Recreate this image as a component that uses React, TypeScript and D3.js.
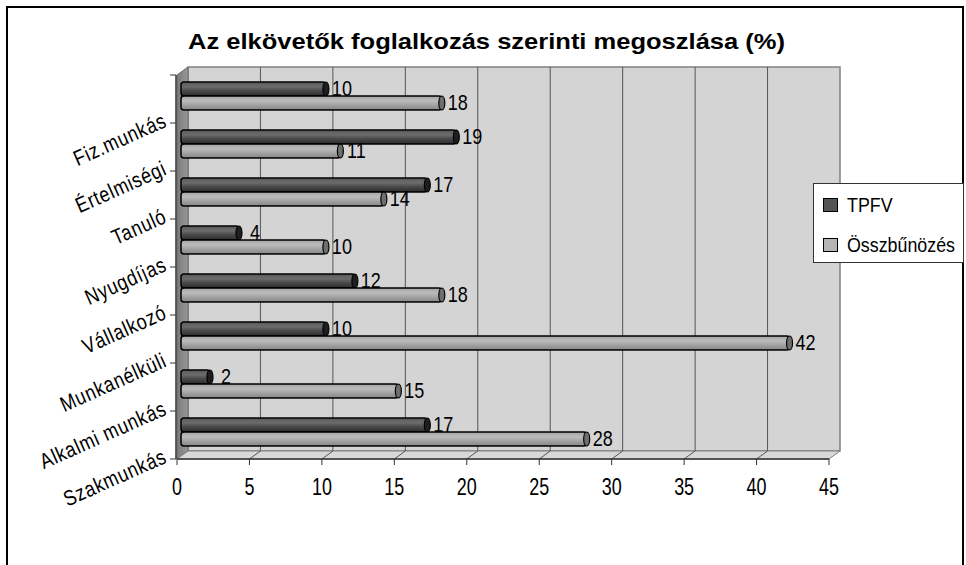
import * as d3 from 'd3';

const categories = [
  'Fiz.munkás',
  'Értelmiségi',
  'Tanuló',
  'Nyugdíjas',
  'Vállalkozó',
  'Munkanélküli',
  'Alkalmi munkás',
  'Szakmunkás',
];
const seriesNames = ['TPFV', 'Összbűnözés'];
const tpfvValues = [10, 19, 17, 4, 12, 10, 2, 17];
const osszValues = [18, 11, 14, 10, 18, 42, 15, 28];
const xTickValues = [0, 5, 10, 15, 20, 25, 30, 35, 40, 45];

const WIDTH = 966;
const HEIGHT = 565;
const FONT = 'Arial, "Liberation Sans", sans-serif';

// 3D depth offset of the back wall
const DX = 11;
const DY = -8;

const fills = ['url(#gDark)', 'url(#gLight)'];
const capFills = ['#1e1e1e', '#6e6e6e'];
const legendFills = ['#555555', '#b4b4b4'];

function SText({
  x,
  y,
  size = 21,
  sx = 0.85,
  anchor = 'start',
  children,
}: {
  x: number;
  y: number;
  size?: number;
  sx?: number;
  anchor?: 'start' | 'middle' | 'end';
  children: React.ReactNode;
}) {
  return (
    <text
      transform={`translate(${x},${y}) scale(${sx},1)`}
      textAnchor={anchor}
      dominantBaseline="central"
      fontSize={size}
      fontFamily={FONT}
      fill="#000"
    >
      {children}
    </text>
  );
}

export default function App() {
  const x = d3.scaleLinear().domain([0, 45]).range([177, 829]);
  const y = d3.scaleBand<string>().domain(categories).range([75, 459]);
  const inner = d3.scaleBand<string>().domain(seriesNames).range([7, 35]);

  const frontTop = 75;
  const frontBottom = 459;
  const x0 = x(0);
  const x1 = x(45);
  const barH = inner.bandwidth();

  const rows = categories.map((c, i) => ({ c, values: [tpfvValues[i], osszValues[i]] }));

  return (
    <svg
      width={WIDTH}
      height={HEIGHT}
      style={{ position: 'absolute', left: 0, top: 0, background: '#fff' }}
    >
      <defs>
        <linearGradient id="gDark" x1="0" y1="0" x2="0" y2="1">
          <stop offset="0" stopColor="#5a5a5a" />
          <stop offset="0.35" stopColor="#6c6c6c" />
          <stop offset="0.65" stopColor="#474747" />
          <stop offset="1" stopColor="#2c2c2c" />
        </linearGradient>
        <linearGradient id="gLight" x1="0" y1="0" x2="0" y2="1">
          <stop offset="0" stopColor="#a4a4a4" />
          <stop offset="0.35" stopColor="#bcbcbc" />
          <stop offset="0.65" stopColor="#a2a2a2" />
          <stop offset="1" stopColor="#858585" />
        </linearGradient>
        <linearGradient id="gSide" x1="0" y1="0" x2="1" y2="0">
          <stop offset="0" stopColor="#7a7a7a" />
          <stop offset="1" stopColor="#999999" />
        </linearGradient>
      </defs>

      {/* outer frame */}
      <rect x={7} y={7} width={956} height={620} fill="none" stroke="#000" strokeWidth={2} />

      {/* title */}
      <text
        x={486.5}
        y={49}
        textAnchor="middle"
        fontSize={22}
        fontWeight="bold"
        fontFamily={FONT}
        textLength={597}
        lengthAdjust="spacingAndGlyphs"
      >
        Az elkövetők foglalkozás szerinti megoszlása (%)
      </text>

      {/* back wall */}
      <rect
        x={x0 + DX}
        y={frontTop + DY}
        width={x1 - x0}
        height={frontBottom - frontTop}
        fill="#d4d4d4"
        stroke="#808080"
        strokeWidth={1.5}
      />
      {/* side wall */}
      <polygon
        points={`${x0},${frontTop} ${x0 + DX},${frontTop + DY} ${x0 + DX},${frontBottom + DY} ${x0},${frontBottom}`}
        fill="url(#gSide)"
        stroke="#6a6a6a"
        strokeWidth={1}
      />
      {/* floor */}
      <polygon
        points={`${x0},${frontBottom} ${x1},${frontBottom} ${x1 + DX},${frontBottom + DY} ${x0 + DX},${frontBottom + DY}`}
        fill="#d8d8d8"
        stroke="#808080"
        strokeWidth={1}
      />

      {/* grid lines on back wall and floor */}
      {xTickValues.slice(1, -1).map((v) => (
        <g key={`g${v}`} stroke="#555" strokeWidth={1}>
          <line x1={x(v) + DX} x2={x(v) + DX} y1={frontTop + DY} y2={frontBottom + DY} />
          <line x1={x(v)} x2={x(v) + DX} y1={frontBottom} y2={frontBottom + DY} />
        </g>
      ))}

      {/* bars */}
      {rows.map((r) =>
        r.values.map((v, si) => {
          const top = (y(r.c) ?? 0) + (inner(seriesNames[si]) ?? 0);
          const start = x(0) + 4;
          const end = x(v) + 4;
          const cy = top + barH / 2;
          return (
            <g key={`${r.c}-${si}`}>
              <rect
                x={start}
                y={top}
                width={end - start}
                height={barH}
                rx={3}
                fill={fills[si]}
                stroke="#000"
                strokeWidth={1.5}
              />
              <ellipse cx={end} cy={cy} rx={3} ry={barH / 2} fill={capFills[si]} stroke="#000" strokeWidth={1.2} />
              <SText x={end + 16} y={cy - 1} size={22} sx={0.82} anchor="middle">
                {v}
              </SText>
            </g>
          );
        }),
      )}

      {/* value axis (front) */}
      <line x1={x0} x2={x1} y1={frontBottom} y2={frontBottom} stroke="#333" strokeWidth={1.5} />
      {xTickValues.map((v) => (
        <g key={`t${v}`}>
          <line x1={x(v)} x2={x(v)} y1={frontBottom} y2={frontBottom + 6} stroke="#333" strokeWidth={1} />
          <SText x={x(v)} y={487} size={23} sx={0.78} anchor="middle">
            {v}
          </SText>
        </g>
      ))}

      {/* category axis */}
      <line x1={x0 - 1} x2={x0 - 1} y1={frontTop} y2={frontBottom} stroke="#333" strokeWidth={1.5} />
      {[...categories.map((c) => y(c) ?? 0), frontBottom].map((ty, i) => (
        <line key={`ct${i}`} x1={x0 - 7} x2={x0 - 1} y1={ty} y2={ty} stroke="#333" strokeWidth={1} />
      ))}
      {categories.map((c) => {
        const cy = (y(c) ?? 0) + y.bandwidth() / 2 + 20;
        return (
          <text
            key={`cl${c}`}
            transform={`translate(165,${cy}) rotate(-24) scale(0.9,1.08)`}
            textAnchor="end"
            dominantBaseline="central"
            fontSize={20}
            fontFamily={FONT}
            letterSpacing={0.8}
          >
            {c}
          </text>
        );
      })}

      {/* legend */}
      <rect x={813.5} y={183.5} width={150} height={79} fill="#fff" stroke="#333" strokeWidth={1} />
      {seriesNames.map((s, i) => (
        <g key={`l${s}`}>
          <rect
            x={823.5}
            y={198.5 + i * 40}
            width={14}
            height={13}
            fill={legendFills[i]}
            stroke="#000"
            strokeWidth={1}
          />
          <SText x={847} y={204 + i * 40}>
            {s}
          </SText>
        </g>
      ))}
    </svg>
  );
}
